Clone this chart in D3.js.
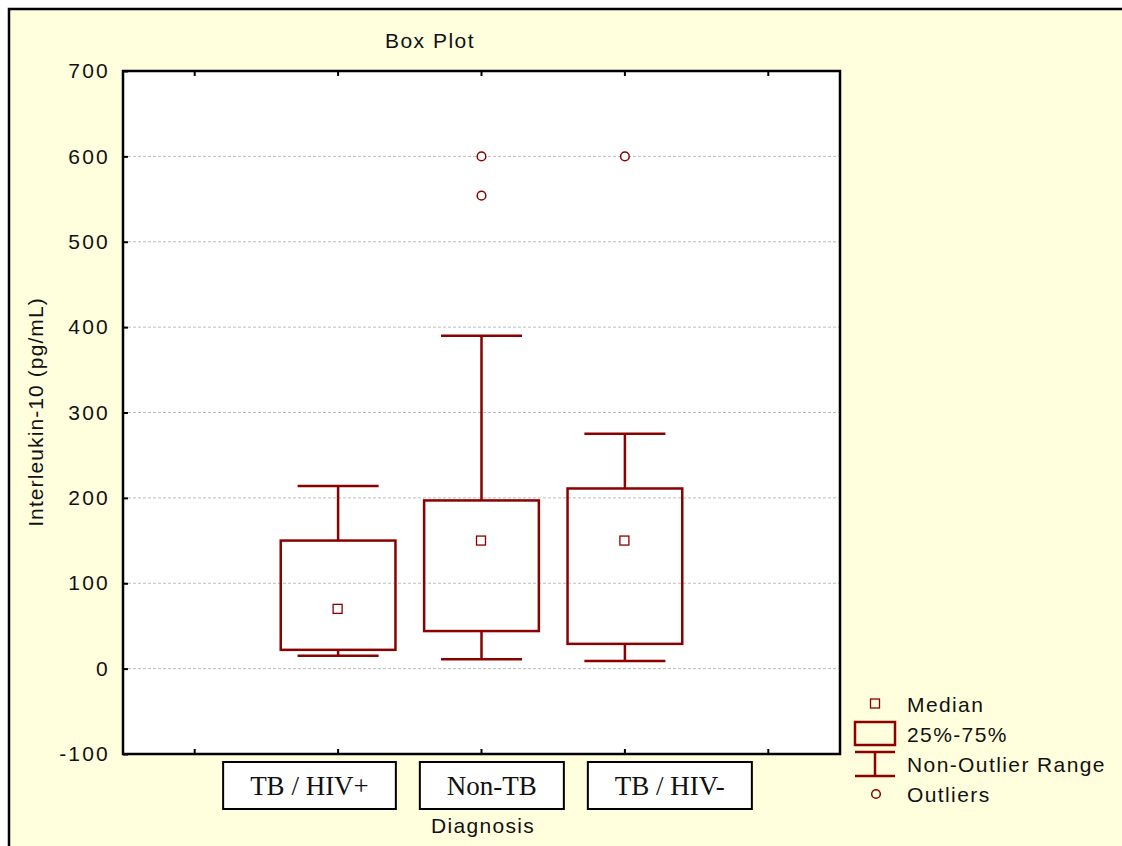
<!DOCTYPE html>
<html><head><meta charset="utf-8">
<script src="https://cdn.jsdelivr.net/npm/d3@7"></script>
<style>
html,body{margin:0;padding:0;background:#fff;}
text{font-family:Arial,"Liberation Sans",sans-serif;fill:#111;}
</style></head>
<body>
<svg id="chart" width="1122" height="846"></svg>
<script>
const categories = ["TB / HIV+", "Non-TB", "TB / HIV-"];
const medians   = [70, 150, 150];
const q1        = [22, 44, 29];
const q3        = [150, 197, 211];
const whiskLow  = [15, 11, 9];
const whiskHigh = [214, 390, 275];
const outliers  = [[], [600, 554], [600]];
const yTicks    = [-100, 0, 100, 200, 300, 400, 500, 600, 700];
const legendLabels = ["Median", "25%-75%", "Non-Outlier Range", "Outliers"];

const W = 1122, H = 846;
const col = "#8b0000";
const svg = d3.select("#chart");

// frame
svg.append("rect").attr("x", 9).attr("y", 9).attr("width", W + 20).attr("height", H + 20)
  .attr("fill", "#fffedd").attr("stroke", "#000").attr("stroke-width", 2.5);

const L = 123, R = 840, T = 71, B = 754;
const slots = ["s0", ...categories, "s4"];
const x = d3.scaleBand().domain(slots).range([L, R]).padding(0);
const y = d3.scaleLinear().domain([-100, 700]).range([B, T]);
const bw = x.bandwidth();

svg.append("rect").attr("x", L).attr("y", T).attr("width", R - L).attr("height", B - T)
  .attr("fill", "#fff");

// gridlines
svg.append("g").selectAll("line").data(yTicks.filter(d => d > -100 && d < 700)).join("line")
  .attr("x1", L).attr("x2", R).attr("y1", d => y(d)).attr("y2", d => y(d))
  .attr("stroke", "#bdbdbd").attr("stroke-width", 1).attr("stroke-dasharray", "3,2");

// axes
const yAxis = d3.axisLeft(y).tickValues(yTicks).tickSize(-5).tickPadding(13)
  .tickFormat(d => String(d));
const gy = svg.append("g").attr("transform", `translate(${L},0)`).call(yAxis);
gy.select(".domain").remove();
gy.selectAll(".tick line").attr("stroke", "#000").attr("stroke-width", 2);
gy.selectAll(".tick text").style("font-family", "Arial, 'Liberation Sans', sans-serif")
  .style("font-size", "21px").attr("letter-spacing", "2.2px").attr("fill", "#111");

const xB = d3.axisBottom(x).tickSize(-5).tickFormat("");
const gxb = svg.append("g").attr("transform", `translate(0,${B})`).call(xB);
gxb.select(".domain").remove();
gxb.selectAll(".tick line").attr("stroke", "#000").attr("stroke-width", 2);
const xT = d3.axisTop(x).tickSize(-5).tickFormat("");
const gxt = svg.append("g").attr("transform", `translate(0,${T})`).call(xT);
gxt.select(".domain").remove();
gxt.selectAll(".tick line").attr("stroke", "#000").attr("stroke-width", 2);

svg.append("rect").attr("x", L).attr("y", T).attr("width", R - L).attr("height", B - T)
  .attr("fill", "none").attr("stroke", "#000").attr("stroke-width", 2.5);

// boxes
const data = categories.map((c, i) => ({c, med: medians[i], q1: q1[i], q3: q3[i], lo: whiskLow[i], hi: whiskHigh[i], out: outliers[i]}));
const boxW = bw * 0.8, capW = bw * 0.565;
const g = svg.append("g");
data.forEach(d => {
  const cx = x(d.c) + bw / 2;
  const gg = g.append("g").attr("stroke", col).attr("fill", "none");
  gg.append("line").attr("x1", cx).attr("x2", cx).attr("y1", y(d.hi)).attr("y2", y(d.q3)).attr("stroke-width", 2.5);
  gg.append("line").attr("x1", cx).attr("x2", cx).attr("y1", y(d.q1)).attr("y2", y(d.lo)).attr("stroke-width", 2.5);
  gg.append("line").attr("x1", cx - capW / 2).attr("x2", cx + capW / 2).attr("y1", y(d.hi)).attr("y2", y(d.hi)).attr("stroke-width", 2.5);
  gg.append("line").attr("x1", cx - capW / 2).attr("x2", cx + capW / 2).attr("y1", y(d.lo)).attr("y2", y(d.lo)).attr("stroke-width", 2.5);
  gg.append("rect").attr("x", cx - boxW / 2).attr("y", y(d.q3)).attr("width", boxW).attr("height", y(d.q1) - y(d.q3)).attr("stroke-width", 2.5);
  gg.append("rect").attr("x", cx - 5).attr("y", y(d.med) - 4.5).attr("width", 9).attr("height", 9).attr("stroke-width", 1.3);
  d.out.forEach(o => {
    gg.append("circle").attr("cx", cx).attr("cy", y(o)).attr("r", 4.3).attr("stroke-width", 1.5).attr("fill", "#fff");
  });
});

// category label boxes
const labG = svg.append("g");
const texts = categories.map(c => labG.append("text").text(c)
  .style("font-family", "'Liberation Serif','Times New Roman',serif").style("font-size", "27px")
  .attr("text-anchor", "middle"));
const widths = texts.map(t => t.node().getComputedTextLength() + 54);
const gap = 24;
const total = d3.sum(widths) + gap * (widths.length - 1);
let cur = 487.5 - total / 2;
texts.forEach((t, i) => {
  labG.insert("rect", "text").attr("x", cur).attr("y", 762).attr("width", widths[i]).attr("height", 47)
    .attr("fill", "#fff").attr("stroke", "#000").attr("stroke-width", 2);
  t.attr("x", cur + widths[i] / 2).attr("y", 795);
  cur += widths[i] + gap;
});
texts.forEach(t => t.raise());

// titles
svg.append("text").attr("x", 430).attr("y", 48).attr("text-anchor", "middle")
  .style("font-size", "21px").attr("letter-spacing", "1.5px").text("Box Plot");
svg.append("text").attr("x", 483).attr("y", 833).attr("text-anchor", "middle")
  .style("font-size", "21px").attr("letter-spacing", "1.3px").text("Diagnosis");
svg.append("text").attr("transform", "translate(43,412) rotate(-90)").attr("text-anchor", "middle")
  .style("font-size", "21px").attr("letter-spacing", "1.1px").text("Interleukin-10 (pg/mL)");

// legend
const lg = svg.append("g");
const ly = [704, 734, 764, 794];
const lcx = 875;
lg.append("rect").attr("x", lcx - 4.5).attr("y", ly[0] - 5).attr("width", 9).attr("height", 9)
  .attr("fill", "none").attr("stroke", col).attr("stroke-width", 1.3);
lg.append("rect").attr("x", lcx - 20).attr("y", 722).attr("width", 40).attr("height", 23)
  .attr("fill", "none").attr("stroke", col).attr("stroke-width", 2.5);
lg.append("line").attr("x1", lcx - 20).attr("x2", lcx + 20).attr("y1", 752).attr("y2", 752).attr("stroke", col).attr("stroke-width", 2.5);
lg.append("line").attr("x1", lcx - 20).attr("x2", lcx + 20).attr("y1", 776).attr("y2", 776).attr("stroke", col).attr("stroke-width", 2.5);
lg.append("line").attr("x1", lcx).attr("x2", lcx).attr("y1", 752).attr("y2", 776).attr("stroke", col).attr("stroke-width", 2.5);
lg.append("circle").attr("cx", lcx + 1).attr("cy", ly[3]).attr("r", 4.3).attr("fill", "none").attr("stroke", col).attr("stroke-width", 1.5);
lg.selectAll("text").data(legendLabels).join("text")
  .attr("x", 907).attr("y", (d, i) => ly[i] + 7.5)
  .style("font-size", "21px").attr("letter-spacing", "1.4px").text(d => d);
</script>
</body></html>
